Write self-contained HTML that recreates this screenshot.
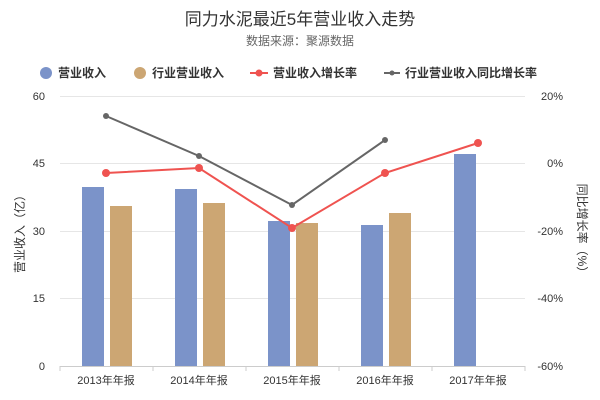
<!DOCTYPE html><html><head><meta charset="utf-8"><style>body{margin:0;background:#fff}svg{display:block;font-family:"Liberation Sans","Noto Sans CJK SC",sans-serif}</style></head><body>
<svg width="600" height="400" viewBox="0 0 600 400">
<text x="300" y="25" text-anchor="middle" font-size="17" fill="#333">同力水泥最近5年营业收入走势</text>
<text x="300" y="45" text-anchor="middle" font-size="12" fill="#666">数据来源：聚源数据</text>
<g font-size="12" font-weight="bold" fill="#333">
<circle cx="46" cy="73" r="6" fill="#7b93c9"/><text x="58" y="77">营业收入</text>
<circle cx="140" cy="73" r="6" fill="#cca673"/><text x="152" y="77">行业营业收入</text>
<line x1="250" y1="73" x2="268" y2="73" stroke="#ef5350" stroke-width="2"/><circle cx="259" cy="73" r="3.5" fill="#ef5350"/><text x="273" y="77">营业收入增长率</text>
<line x1="384" y1="73" x2="400" y2="73" stroke="#666" stroke-width="2"/><circle cx="392" cy="73" r="2.5" fill="#666"/><text x="405" y="77">行业营业收入同比增长率</text>
</g>
<g stroke="#e6e6e6" stroke-width="1">
<line x1="60" y1="96.5" x2="525" y2="96.5"/><line x1="60" y1="163.5" x2="525" y2="163.5"/><line x1="60" y1="231.5" x2="525" y2="231.5"/><line x1="60" y1="298.5" x2="525" y2="298.5"/>
</g>
<line x1="60" y1="366.5" x2="525" y2="366.5" stroke="#ccc"/>
<g stroke="#ccc"><line x1="60" y1="366" x2="60" y2="371"/><line x1="153" y1="366" x2="153" y2="371"/><line x1="246" y1="366" x2="246" y2="371"/><line x1="339" y1="366" x2="339" y2="371"/><line x1="432" y1="366" x2="432" y2="371"/><line x1="525" y1="366" x2="525" y2="371"/></g>
<g font-size="11" fill="#333" text-anchor="end">
<text x="45" y="100">60</text><text x="45" y="167">45</text><text x="45" y="235">30</text><text x="45" y="302">15</text><text x="45" y="370">0</text></g>
<g font-size="11" fill="#333" text-anchor="end">
<text x="563" y="100">20%</text><text x="563" y="167">0%</text><text x="563" y="235">-20%</text><text x="563" y="302">-40%</text><text x="563" y="370">-60%</text></g>
<g font-size="11" fill="#333" text-anchor="middle">
<text x="106" y="384">2013年年报</text><text x="199" y="384">2014年年报</text><text x="292" y="384">2015年年报</text><text x="385" y="384">2016年年报</text><text x="478" y="384">2017年年报</text></g>
<text transform="translate(24,231) rotate(-90)" text-anchor="middle" font-size="12" fill="#333">营业收入（亿）</text>
<text transform="translate(578,231) rotate(90)" text-anchor="middle" font-size="12" fill="#333">同比增长率（%）</text>
<g fill="#7b93c9"><rect x="82" y="187" width="22" height="179"/><rect x="175" y="189" width="22" height="177"/><rect x="268" y="221" width="22" height="145"/><rect x="361" y="225" width="22" height="141"/><rect x="454" y="154" width="22" height="212"/></g>
<g fill="#cca673"><rect x="110" y="206" width="22" height="160"/><rect x="203" y="203" width="22" height="163"/><rect x="296" y="223" width="22" height="143"/><rect x="389" y="213" width="22" height="153"/></g>
<polyline points="106,116 199,156 292,205 385,140" fill="none" stroke="#666" stroke-width="2"/>
<g fill="#666"><circle cx="106" cy="116" r="3"/><circle cx="199" cy="156" r="3"/><circle cx="292" cy="205" r="3"/><circle cx="385" cy="140" r="3"/></g>
<polyline points="106,173 199,168 292,228 385,173 478,143" fill="none" stroke="#ef5350" stroke-width="2"/>
<g fill="#ef5350"><circle cx="106" cy="173" r="4"/><circle cx="199" cy="168" r="4"/><circle cx="292" cy="228" r="4"/><circle cx="385" cy="173" r="4"/><circle cx="478" cy="143" r="4"/></g>
</svg></body></html>
